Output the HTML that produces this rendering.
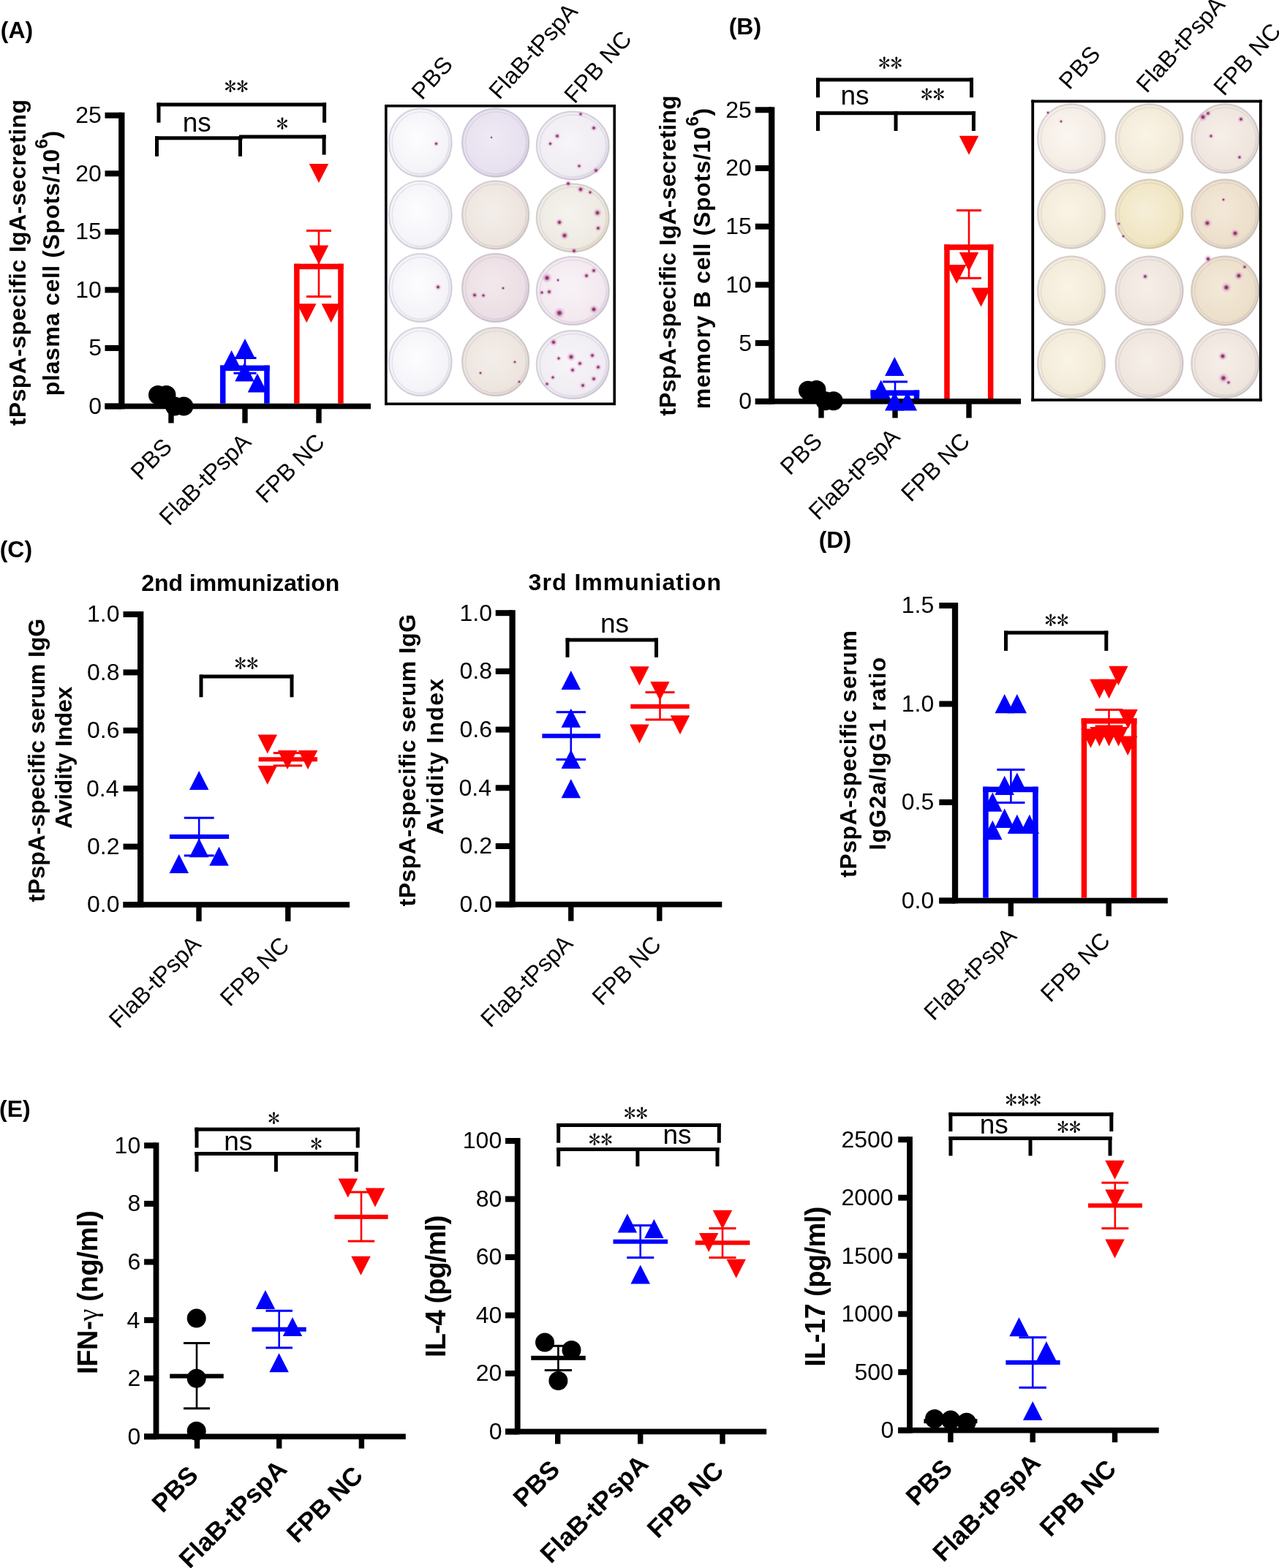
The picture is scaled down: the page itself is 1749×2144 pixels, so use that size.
<!DOCTYPE html>
<html><head><meta charset="utf-8"><title>Figure</title>
<style>html,body{margin:0;padding:0;background:#fff;overflow:hidden;}svg{display:block;}</style></head>
<body><svg width="1749" height="2144" viewBox="0 0 1749 2144">
<rect width="1749" height="2144" fill="#fff"/>
<defs>
<radialGradient id="gA1" cx="0.45" cy="0.45" r="0.6"><stop offset="0" stop-color="#fdfdfe"/><stop offset="0.8" stop-color="#f4f3f8"/><stop offset="1" stop-color="#e4e2ea"/></radialGradient>
<radialGradient id="gA2" cx="0.45" cy="0.45" r="0.6"><stop offset="0" stop-color="#efeaf4"/><stop offset="0.8" stop-color="#e7e0ef"/><stop offset="1" stop-color="#d6cce2"/></radialGradient>
<radialGradient id="gA3" cx="0.45" cy="0.45" r="0.6"><stop offset="0" stop-color="#f3eeea"/><stop offset="0.8" stop-color="#ebe2dd"/><stop offset="1" stop-color="#ddd2cf"/></radialGradient>
<radialGradient id="gA4" cx="0.45" cy="0.45" r="0.6"><stop offset="0" stop-color="#f7f5f8"/><stop offset="0.8" stop-color="#f0ecf3"/><stop offset="1" stop-color="#dcd4e2"/></radialGradient>
<radialGradient id="gA5" cx="0.45" cy="0.45" r="0.6"><stop offset="0" stop-color="#f3eeea"/><stop offset="0.8" stop-color="#ede4de"/><stop offset="1" stop-color="#dfd3cb"/></radialGradient>
<radialGradient id="gA6" cx="0.45" cy="0.45" r="0.6"><stop offset="0" stop-color="#f3e9ec"/><stop offset="0.8" stop-color="#ebdee4"/><stop offset="1" stop-color="#d8c9d7"/></radialGradient>
<radialGradient id="gA7" cx="0.45" cy="0.45" r="0.6"><stop offset="0" stop-color="#f8f2f5"/><stop offset="0.8" stop-color="#f2e9ef"/><stop offset="1" stop-color="#e0d2de"/></radialGradient>
<radialGradient id="gA8" cx="0.45" cy="0.45" r="0.6"><stop offset="0" stop-color="#f5f3ef"/><stop offset="0.8" stop-color="#eeeae2"/><stop offset="1" stop-color="#e2dab8"/></radialGradient>
<radialGradient id="gB1" cx="0.45" cy="0.45" r="0.6"><stop offset="0" stop-color="#fbf7f0"/><stop offset="0.8" stop-color="#f3ece5"/><stop offset="1" stop-color="#e2d8d3"/></radialGradient>
<radialGradient id="gB2" cx="0.45" cy="0.45" r="0.6"><stop offset="0" stop-color="#faf4e6"/><stop offset="0.8" stop-color="#f2ead8"/><stop offset="1" stop-color="#e2d8c4"/></radialGradient>
<radialGradient id="gB3" cx="0.45" cy="0.45" r="0.6"><stop offset="0" stop-color="#f6efd8"/><stop offset="0.8" stop-color="#f0e5c2"/><stop offset="1" stop-color="#e8d890"/></radialGradient>
<radialGradient id="gB4" cx="0.45" cy="0.45" r="0.6"><stop offset="0" stop-color="#f3e9d9"/><stop offset="0.8" stop-color="#ecdfca"/><stop offset="1" stop-color="#ddd0bd"/></radialGradient>
<radialGradient id="gB5" cx="0.45" cy="0.45" r="0.6"><stop offset="0" stop-color="#f6efe8"/><stop offset="0.8" stop-color="#eee5dd"/><stop offset="1" stop-color="#ded3cd"/></radialGradient>
<radialGradient id="spot"><stop offset="0" stop-color="#6a2a55"/><stop offset="0.25" stop-color="#86366c" stop-opacity="0.9"/><stop offset="0.5" stop-color="#c868a8" stop-opacity="0.4"/><stop offset="1" stop-color="#f0b0d8" stop-opacity="0"/></radialGradient>
<filter id="soft" x="-5%" y="-5%" width="110%" height="110%"><feGaussianBlur stdDeviation="0.6"/></filter>
</defs>
<rect x="162.15" y="153.75" width="8.30" height="405.55" fill="#000000"/>
<rect x="143.50" y="551.50" width="22.80" height="8.00" fill="#000000"/>
<rect x="143.50" y="471.95" width="22.80" height="8.00" fill="#000000"/>
<rect x="143.50" y="392.40" width="22.80" height="8.00" fill="#000000"/>
<rect x="143.50" y="312.85" width="22.80" height="8.00" fill="#000000"/>
<rect x="143.50" y="233.30" width="22.80" height="8.00" fill="#000000"/>
<rect x="143.50" y="153.75" width="22.80" height="8.00" fill="#000000"/>
<rect x="143.50" y="551.70" width="363.50" height="7.60" fill="#000000"/>
<rect x="230.30" y="555.50" width="7.40" height="23.00" fill="#000000"/>
<rect x="331.30" y="555.50" width="7.40" height="23.00" fill="#000000"/>
<rect x="432.30" y="555.50" width="7.40" height="23.00" fill="#000000"/>
<rect x="301.00" y="499.60" width="7.50" height="52.10" fill="#0000ff"/>
<rect x="361.20" y="499.60" width="7.50" height="52.10" fill="#0000ff"/>
<rect x="301.00" y="499.60" width="67.70" height="7.50" fill="#0000ff"/>
<rect x="402.10" y="360.70" width="7.50" height="191.00" fill="#ff0000"/>
<rect x="462.20" y="360.70" width="7.50" height="191.00" fill="#ff0000"/>
<rect x="402.10" y="360.70" width="67.60" height="7.50" fill="#ff0000"/>
<rect x="333.70" y="489.50" width="2.60" height="20.80" fill="#0000ff"/>
<rect x="319.50" y="488.00" width="31.00" height="3.00" fill="#0000ff"/>
<rect x="319.50" y="508.80" width="31.00" height="3.00" fill="#0000ff"/>
<rect x="434.70" y="315.40" width="2.60" height="90.10" fill="#ff0000"/>
<rect x="419.00" y="313.90" width="34.00" height="3.00" fill="#ff0000"/>
<rect x="419.00" y="404.00" width="34.00" height="3.00" fill="#ff0000"/>
<circle cx="216.00" cy="540.00" r="13" fill="#000000"/>
<circle cx="227.50" cy="540.00" r="13" fill="#000000"/>
<circle cx="239.00" cy="555.60" r="13" fill="#000000"/>
<circle cx="251.40" cy="555.60" r="13" fill="#000000"/>
<polygon points="316.60,478.90 303.35,504.90 329.85,504.90" fill="#0000ff"/>
<polygon points="335.00,463.00 321.75,489.00 348.25,489.00" fill="#0000ff"/>
<polygon points="334.50,495.50 321.25,521.50 347.75,521.50" fill="#0000ff"/>
<polygon points="352.00,510.50 338.75,536.50 365.25,536.50" fill="#0000ff"/>
<polygon points="422.75,224.00 449.25,224.00 436.00,250.00" fill="#ff0000"/>
<polygon points="422.75,335.50 449.25,335.50 436.00,361.50" fill="#ff0000"/>
<polygon points="406.05,415.20 432.55,415.20 419.30,441.20" fill="#ff0000"/>
<polygon points="439.55,415.20 466.05,415.20 452.80,441.20" fill="#ff0000"/>
<rect x="214.50" y="140.50" width="231.60" height="5.00" fill="#000000"/>
<rect x="214.50" y="140.50" width="5.00" height="27.20" fill="#000000"/>
<rect x="441.10" y="140.50" width="5.00" height="27.20" fill="#000000"/>
<rect x="212.00" y="186.30" width="119.50" height="5.00" fill="#000000"/>
<rect x="212.00" y="186.30" width="5.00" height="27.50" fill="#000000"/>
<rect x="326.00" y="186.30" width="5.00" height="27.50" fill="#000000"/>
<rect x="327.00" y="184.50" width="118.60" height="5.00" fill="#000000"/>
<rect x="440.60" y="184.50" width="5.00" height="27.10" fill="#000000"/>
<rect x="1051.05" y="146.30" width="8.30" height="406.30" fill="#000000"/>
<rect x="1032.80" y="544.80" width="22.40" height="8.00" fill="#000000"/>
<rect x="1032.80" y="465.10" width="22.40" height="8.00" fill="#000000"/>
<rect x="1032.80" y="385.40" width="22.40" height="8.00" fill="#000000"/>
<rect x="1032.80" y="305.70" width="22.40" height="8.00" fill="#000000"/>
<rect x="1032.80" y="226.00" width="22.40" height="8.00" fill="#000000"/>
<rect x="1032.80" y="146.30" width="22.40" height="8.00" fill="#000000"/>
<rect x="1032.80" y="545.00" width="363.20" height="7.60" fill="#000000"/>
<rect x="1119.30" y="548.80" width="7.40" height="22.70" fill="#000000"/>
<rect x="1220.30" y="548.80" width="7.40" height="22.70" fill="#000000"/>
<rect x="1321.30" y="548.80" width="7.40" height="22.70" fill="#000000"/>
<rect x="1190.50" y="533.50" width="7.50" height="11.50" fill="#0000ff"/>
<rect x="1249.70" y="533.50" width="7.50" height="11.50" fill="#0000ff"/>
<rect x="1190.50" y="533.50" width="66.70" height="7.50" fill="#0000ff"/>
<rect x="1291.20" y="334.30" width="7.50" height="210.70" fill="#ff0000"/>
<rect x="1350.90" y="334.30" width="7.50" height="210.70" fill="#ff0000"/>
<rect x="1291.20" y="334.30" width="67.20" height="7.50" fill="#ff0000"/>
<rect x="1222.70" y="522.00" width="2.60" height="17.00" fill="#0000ff"/>
<rect x="1207.00" y="520.50" width="34.00" height="3.00" fill="#0000ff"/>
<rect x="1207.00" y="537.50" width="34.00" height="3.00" fill="#0000ff"/>
<rect x="1323.70" y="287.70" width="2.60" height="92.60" fill="#ff0000"/>
<rect x="1308.00" y="286.20" width="34.00" height="3.00" fill="#ff0000"/>
<rect x="1308.00" y="378.80" width="34.00" height="3.00" fill="#ff0000"/>
<circle cx="1105.00" cy="533.80" r="13" fill="#000000"/>
<circle cx="1116.50" cy="533.00" r="13" fill="#000000"/>
<circle cx="1128.50" cy="548.30" r="13" fill="#000000"/>
<circle cx="1139.80" cy="548.30" r="13" fill="#000000"/>
<polygon points="1223.30,488.00 1210.05,514.00 1236.55,514.00" fill="#0000ff"/>
<polygon points="1204.70,519.50 1191.45,545.50 1217.95,545.50" fill="#0000ff"/>
<polygon points="1223.30,535.50 1210.05,561.50 1236.55,561.50" fill="#0000ff"/>
<polygon points="1240.80,535.50 1227.55,561.50 1254.05,561.50" fill="#0000ff"/>
<polygon points="1311.75,185.70 1338.25,185.70 1325.00,211.70" fill="#ff0000"/>
<polygon points="1311.75,345.00 1338.25,345.00 1325.00,371.00" fill="#ff0000"/>
<polygon points="1294.95,362.00 1321.45,362.00 1308.20,388.00" fill="#ff0000"/>
<polygon points="1328.25,393.40 1354.75,393.40 1341.50,419.40" fill="#ff0000"/>
<rect x="1116.00" y="106.50" width="215.00" height="5.00" fill="#000000"/>
<rect x="1116.00" y="106.50" width="5.00" height="26.80" fill="#000000"/>
<rect x="1326.00" y="106.50" width="5.00" height="26.80" fill="#000000"/>
<rect x="1116.00" y="152.20" width="218.00" height="5.00" fill="#000000"/>
<rect x="1116.00" y="152.20" width="5.00" height="26.80" fill="#000000"/>
<rect x="1222.50" y="152.20" width="5.00" height="26.80" fill="#000000"/>
<rect x="1328.90" y="152.20" width="5.00" height="26.80" fill="#000000"/>
<rect x="188.05" y="836.00" width="8.30" height="404.80" fill="#000000"/>
<rect x="168.50" y="1233.00" width="23.70" height="8.00" fill="#000000"/>
<rect x="168.50" y="1153.60" width="23.70" height="8.00" fill="#000000"/>
<rect x="168.50" y="1074.20" width="23.70" height="8.00" fill="#000000"/>
<rect x="168.50" y="994.80" width="23.70" height="8.00" fill="#000000"/>
<rect x="168.50" y="915.40" width="23.70" height="8.00" fill="#000000"/>
<rect x="168.50" y="836.00" width="23.70" height="8.00" fill="#000000"/>
<rect x="168.50" y="1233.20" width="309.60" height="7.60" fill="#000000"/>
<rect x="268.30" y="1237.00" width="7.40" height="22.70" fill="#000000"/>
<rect x="390.10" y="1237.00" width="7.40" height="22.70" fill="#000000"/>
<rect x="231.90" y="1141.00" width="81.20" height="6.00" fill="#0000ff"/>
<rect x="270.90" y="1118.30" width="2.60" height="51.60" fill="#0000ff"/>
<rect x="251.75" y="1116.80" width="40.90" height="3.00" fill="#0000ff"/>
<rect x="251.75" y="1168.40" width="40.90" height="3.00" fill="#0000ff"/>
<rect x="353.75" y="1035.30" width="80.30" height="6.00" fill="#ff0000"/>
<rect x="392.20" y="1029.60" width="2.60" height="17.30" fill="#ff0000"/>
<rect x="373.75" y="1028.10" width="39.50" height="3.00" fill="#ff0000"/>
<rect x="373.75" y="1045.40" width="39.50" height="3.00" fill="#ff0000"/>
<polygon points="272.20,1054.10 258.95,1080.10 285.45,1080.10" fill="#0000ff"/>
<polygon points="272.20,1146.30 258.95,1172.30 285.45,1172.30" fill="#0000ff"/>
<polygon points="244.80,1167.90 231.55,1193.90 258.05,1193.90" fill="#0000ff"/>
<polygon points="299.50,1157.80 286.25,1183.80 312.75,1183.80" fill="#0000ff"/>
<polygon points="352.55,1004.60 379.05,1004.60 365.80,1030.60" fill="#ff0000"/>
<polygon points="379.85,1025.90 406.35,1025.90 393.10,1051.90" fill="#ff0000"/>
<polygon points="407.85,1025.90 434.35,1025.90 421.10,1051.90" fill="#ff0000"/>
<polygon points="352.55,1046.90 379.05,1046.90 365.80,1072.90" fill="#ff0000"/>
<rect x="273.00" y="922.50" width="128.20" height="5.00" fill="#000000"/>
<rect x="272.50" y="922.50" width="5.00" height="30.80" fill="#000000"/>
<rect x="396.50" y="922.50" width="5.00" height="30.80" fill="#000000"/>
<rect x="696.45" y="834.20" width="8.30" height="406.30" fill="#000000"/>
<rect x="677.70" y="1232.70" width="22.90" height="8.00" fill="#000000"/>
<rect x="677.70" y="1153.00" width="22.90" height="8.00" fill="#000000"/>
<rect x="677.70" y="1073.30" width="22.90" height="8.00" fill="#000000"/>
<rect x="677.70" y="993.60" width="22.90" height="8.00" fill="#000000"/>
<rect x="677.70" y="913.90" width="22.90" height="8.00" fill="#000000"/>
<rect x="677.70" y="834.20" width="22.90" height="8.00" fill="#000000"/>
<rect x="677.70" y="1232.90" width="309.60" height="7.60" fill="#000000"/>
<rect x="777.10" y="1236.70" width="7.40" height="22.70" fill="#000000"/>
<rect x="898.10" y="1236.70" width="7.40" height="22.70" fill="#000000"/>
<rect x="741.35" y="1003.30" width="79.70" height="6.00" fill="#0000ff"/>
<rect x="779.50" y="973.70" width="2.60" height="64.80" fill="#0000ff"/>
<rect x="760.65" y="972.20" width="40.30" height="3.00" fill="#0000ff"/>
<rect x="760.65" y="1037.00" width="40.30" height="3.00" fill="#0000ff"/>
<rect x="862.30" y="963.00" width="80.40" height="6.00" fill="#ff0000"/>
<rect x="901.20" y="946.60" width="2.60" height="37.40" fill="#ff0000"/>
<rect x="882.50" y="945.10" width="40.00" height="3.00" fill="#ff0000"/>
<rect x="882.50" y="982.50" width="40.00" height="3.00" fill="#ff0000"/>
<polygon points="780.80,917.00 767.55,943.00 794.05,943.00" fill="#0000ff"/>
<polygon points="780.80,968.80 767.55,994.80 794.05,994.80" fill="#0000ff"/>
<polygon points="780.80,1025.00 767.55,1051.00 794.05,1051.00" fill="#0000ff"/>
<polygon points="780.80,1065.30 767.55,1091.30 794.05,1091.30" fill="#0000ff"/>
<polygon points="861.15,911.20 887.65,911.20 874.40,937.20" fill="#ff0000"/>
<polygon points="889.15,932.00 915.65,932.00 902.40,958.00" fill="#ff0000"/>
<polygon points="916.75,978.30 943.25,978.30 930.00,1004.30" fill="#ff0000"/>
<polygon points="861.15,990.40 887.65,990.40 874.40,1016.40" fill="#ff0000"/>
<rect x="773.60" y="872.50" width="126.20" height="5.00" fill="#000000"/>
<rect x="773.50" y="872.50" width="5.00" height="26.30" fill="#000000"/>
<rect x="895.00" y="872.50" width="5.00" height="26.30" fill="#000000"/>
<rect x="1301.85" y="824.00" width="8.30" height="411.30" fill="#000000"/>
<rect x="1284.30" y="1227.50" width="21.70" height="8.00" fill="#000000"/>
<rect x="1284.30" y="1093.00" width="21.70" height="8.00" fill="#000000"/>
<rect x="1284.30" y="958.50" width="21.70" height="8.00" fill="#000000"/>
<rect x="1284.30" y="824.00" width="21.70" height="8.00" fill="#000000"/>
<rect x="1284.30" y="1227.70" width="312.50" height="7.60" fill="#000000"/>
<rect x="1378.60" y="1231.50" width="7.40" height="21.30" fill="#000000"/>
<rect x="1512.50" y="1231.50" width="7.40" height="21.30" fill="#000000"/>
<rect x="1344.20" y="1075.70" width="7.50" height="152.00" fill="#0000ff"/>
<rect x="1412.20" y="1075.70" width="7.50" height="152.00" fill="#0000ff"/>
<rect x="1344.20" y="1075.70" width="75.50" height="7.50" fill="#0000ff"/>
<rect x="1478.70" y="982.10" width="7.50" height="245.60" fill="#ff0000"/>
<rect x="1547.00" y="982.10" width="7.50" height="245.60" fill="#ff0000"/>
<rect x="1478.70" y="982.10" width="75.80" height="7.50" fill="#ff0000"/>
<rect x="1381.10" y="1052.40" width="2.60" height="45.10" fill="#0000ff"/>
<rect x="1363.40" y="1050.90" width="38.00" height="3.00" fill="#0000ff"/>
<rect x="1363.40" y="1096.00" width="38.00" height="3.00" fill="#0000ff"/>
<rect x="1515.20" y="970.50" width="2.60" height="22.50" fill="#ff0000"/>
<rect x="1497.65" y="969.00" width="37.70" height="3.00" fill="#ff0000"/>
<rect x="1497.65" y="991.50" width="37.70" height="3.00" fill="#ff0000"/>
<polygon points="1373.70,948.90 1360.50,975.30 1386.90,975.30" fill="#0000ff"/>
<polygon points="1390.80,948.90 1377.60,975.30 1404.00,975.30" fill="#0000ff"/>
<polygon points="1373.70,1060.70 1360.50,1087.10 1386.90,1087.10" fill="#0000ff"/>
<polygon points="1390.80,1056.40 1377.60,1082.80 1404.00,1082.80" fill="#0000ff"/>
<polygon points="1357.30,1083.40 1344.10,1109.80 1370.50,1109.80" fill="#0000ff"/>
<polygon points="1373.70,1105.60 1360.50,1132.00 1386.90,1132.00" fill="#0000ff"/>
<polygon points="1390.80,1113.70 1377.60,1140.10 1404.00,1140.10" fill="#0000ff"/>
<polygon points="1407.80,1113.70 1394.60,1140.10 1421.00,1140.10" fill="#0000ff"/>
<polygon points="1357.30,1121.80 1344.10,1148.20 1370.50,1148.20" fill="#0000ff"/>
<polygon points="1516.20,910.80 1542.60,910.80 1529.40,937.20" fill="#ff0000"/>
<polygon points="1490.30,928.80 1516.70,928.80 1503.50,955.20" fill="#ff0000"/>
<polygon points="1503.30,928.80 1529.70,928.80 1516.50,955.20" fill="#ff0000"/>
<polygon points="1529.40,970.00 1555.80,970.00 1542.60,996.40" fill="#ff0000"/>
<polygon points="1478.30,996.40 1504.70,996.40 1491.50,1022.80" fill="#ff0000"/>
<polygon points="1490.30,994.00 1516.70,994.00 1503.50,1020.40" fill="#ff0000"/>
<polygon points="1503.30,994.00 1529.70,994.00 1516.50,1020.40" fill="#ff0000"/>
<polygon points="1516.30,994.00 1542.70,994.00 1529.50,1020.40" fill="#ff0000"/>
<polygon points="1529.00,1006.60 1555.40,1006.60 1542.20,1033.00" fill="#ff0000"/>
<rect x="1373.00" y="862.60" width="142.30" height="5.00" fill="#000000"/>
<rect x="1373.00" y="862.60" width="5.00" height="27.30" fill="#000000"/>
<rect x="1510.30" y="862.60" width="5.00" height="27.30" fill="#000000"/>
<rect x="209.60" y="1562.30" width="7.80" height="405.80" fill="#000000"/>
<rect x="197.10" y="1960.30" width="16.40" height="8.00" fill="#000000"/>
<rect x="197.10" y="1880.70" width="16.40" height="8.00" fill="#000000"/>
<rect x="197.10" y="1801.10" width="16.40" height="8.00" fill="#000000"/>
<rect x="197.10" y="1721.50" width="16.40" height="8.00" fill="#000000"/>
<rect x="197.10" y="1641.90" width="16.40" height="8.00" fill="#000000"/>
<rect x="197.10" y="1562.30" width="16.40" height="8.00" fill="#000000"/>
<rect x="197.10" y="1960.50" width="357.70" height="7.60" fill="#000000"/>
<rect x="265.80" y="1964.30" width="7.40" height="16.30" fill="#000000"/>
<rect x="378.00" y="1964.30" width="7.40" height="16.30" fill="#000000"/>
<rect x="490.70" y="1964.30" width="7.40" height="16.30" fill="#000000"/>
<rect x="232.25" y="1878.60" width="73.50" height="6.00" fill="#000000"/>
<rect x="267.70" y="1836.50" width="2.60" height="89.30" fill="#000000"/>
<rect x="251.00" y="1835.00" width="36.00" height="3.00" fill="#000000"/>
<rect x="251.00" y="1924.30" width="36.00" height="3.00" fill="#000000"/>
<circle cx="268.70" cy="1802.60" r="13" fill="#000000"/>
<circle cx="268.70" cy="1884.80" r="13" fill="#000000"/>
<circle cx="268.70" cy="1956.80" r="13" fill="#000000"/>
<rect x="344.50" y="1814.70" width="74.20" height="6.00" fill="#0000ff"/>
<rect x="380.40" y="1792.30" width="2.60" height="50.60" fill="#0000ff"/>
<rect x="363.45" y="1790.80" width="36.50" height="3.00" fill="#0000ff"/>
<rect x="363.45" y="1841.40" width="36.50" height="3.00" fill="#0000ff"/>
<polygon points="362.90,1763.90 349.65,1789.90 376.15,1789.90" fill="#0000ff"/>
<polygon points="400.00,1801.00 386.75,1827.00 413.25,1827.00" fill="#0000ff"/>
<polygon points="381.60,1850.30 368.35,1876.30 394.85,1876.30" fill="#0000ff"/>
<rect x="457.40" y="1660.90" width="73.20" height="6.00" fill="#ff0000"/>
<rect x="492.70" y="1630.00" width="2.60" height="67.10" fill="#ff0000"/>
<rect x="475.75" y="1628.50" width="36.50" height="3.00" fill="#ff0000"/>
<rect x="475.75" y="1695.60" width="36.50" height="3.00" fill="#ff0000"/>
<polygon points="462.55,1611.60 489.05,1611.60 475.80,1637.60" fill="#ff0000"/>
<polygon points="499.75,1624.50 526.25,1624.50 513.00,1650.50" fill="#ff0000"/>
<polygon points="480.25,1717.70 506.75,1717.70 493.50,1743.70" fill="#ff0000"/>
<rect x="266.20" y="1541.70" width="225.80" height="5.00" fill="#000000"/>
<rect x="266.50" y="1541.70" width="5.00" height="27.70" fill="#000000"/>
<rect x="486.70" y="1541.70" width="5.00" height="27.70" fill="#000000"/>
<rect x="266.20" y="1575.00" width="223.80" height="5.00" fill="#000000"/>
<rect x="266.50" y="1575.00" width="5.00" height="27.20" fill="#000000"/>
<rect x="374.90" y="1575.00" width="5.00" height="27.20" fill="#000000"/>
<rect x="484.80" y="1575.00" width="5.00" height="27.20" fill="#000000"/>
<rect x="703.80" y="1556.00" width="7.80" height="405.30" fill="#000000"/>
<rect x="691.00" y="1953.50" width="16.70" height="8.00" fill="#000000"/>
<rect x="691.00" y="1874.00" width="16.70" height="8.00" fill="#000000"/>
<rect x="691.00" y="1794.50" width="16.70" height="8.00" fill="#000000"/>
<rect x="691.00" y="1715.00" width="16.70" height="8.00" fill="#000000"/>
<rect x="691.00" y="1635.50" width="16.70" height="8.00" fill="#000000"/>
<rect x="691.00" y="1556.00" width="16.70" height="8.00" fill="#000000"/>
<rect x="691.00" y="1953.70" width="357.20" height="7.60" fill="#000000"/>
<rect x="759.00" y="1957.50" width="7.40" height="16.90" fill="#000000"/>
<rect x="872.00" y="1957.50" width="7.40" height="16.90" fill="#000000"/>
<rect x="984.30" y="1957.50" width="7.40" height="16.90" fill="#000000"/>
<rect x="726.25" y="1853.80" width="74.50" height="6.00" fill="#000000"/>
<rect x="762.10" y="1840.30" width="2.60" height="33.30" fill="#000000"/>
<rect x="744.75" y="1838.80" width="37.30" height="3.00" fill="#000000"/>
<rect x="744.75" y="1872.10" width="37.30" height="3.00" fill="#000000"/>
<circle cx="745.00" cy="1835.60" r="13" fill="#000000"/>
<circle cx="781.50" cy="1845.90" r="13" fill="#000000"/>
<circle cx="763.40" cy="1888.00" r="13" fill="#000000"/>
<rect x="838.50" y="1694.70" width="74.60" height="6.00" fill="#0000ff"/>
<rect x="874.40" y="1675.60" width="2.60" height="44.00" fill="#0000ff"/>
<rect x="857.20" y="1674.10" width="37.00" height="3.00" fill="#0000ff"/>
<rect x="857.20" y="1718.10" width="37.00" height="3.00" fill="#0000ff"/>
<polygon points="857.90,1659.40 844.65,1685.40 871.15,1685.40" fill="#0000ff"/>
<polygon points="894.40,1667.10 881.15,1693.10 907.65,1693.10" fill="#0000ff"/>
<polygon points="875.70,1729.50 862.45,1755.50 888.95,1755.50" fill="#0000ff"/>
<rect x="950.80" y="1696.30" width="74.60" height="6.00" fill="#ff0000"/>
<rect x="986.70" y="1679.60" width="2.60" height="40.00" fill="#ff0000"/>
<rect x="969.50" y="1678.10" width="37.00" height="3.00" fill="#ff0000"/>
<rect x="969.50" y="1718.10" width="37.00" height="3.00" fill="#ff0000"/>
<polygon points="974.75,1654.70 1001.25,1654.70 988.00,1680.70" fill="#ff0000"/>
<polygon points="955.95,1685.90 982.45,1685.90 969.20,1711.90" fill="#ff0000"/>
<polygon points="993.45,1721.70 1019.95,1721.70 1006.70,1747.70" fill="#ff0000"/>
<rect x="761.20" y="1536.00" width="224.60" height="5.00" fill="#000000"/>
<rect x="761.20" y="1536.00" width="5.00" height="26.70" fill="#000000"/>
<rect x="980.80" y="1536.00" width="5.00" height="26.70" fill="#000000"/>
<rect x="761.20" y="1569.00" width="222.30" height="5.00" fill="#000000"/>
<rect x="761.20" y="1569.00" width="5.00" height="25.80" fill="#000000"/>
<rect x="869.40" y="1569.00" width="5.00" height="25.80" fill="#000000"/>
<rect x="978.50" y="1569.00" width="5.00" height="25.80" fill="#000000"/>
<rect x="1240.10" y="1554.20" width="7.80" height="405.30" fill="#000000"/>
<rect x="1228.20" y="1951.70" width="15.80" height="8.00" fill="#000000"/>
<rect x="1228.20" y="1872.20" width="15.80" height="8.00" fill="#000000"/>
<rect x="1228.20" y="1792.70" width="15.80" height="8.00" fill="#000000"/>
<rect x="1228.20" y="1713.20" width="15.80" height="8.00" fill="#000000"/>
<rect x="1228.20" y="1633.70" width="15.80" height="8.00" fill="#000000"/>
<rect x="1228.20" y="1554.20" width="15.80" height="8.00" fill="#000000"/>
<rect x="1228.20" y="1951.90" width="356.50" height="7.60" fill="#000000"/>
<rect x="1296.20" y="1955.70" width="7.40" height="16.50" fill="#000000"/>
<rect x="1408.50" y="1955.70" width="7.40" height="16.50" fill="#000000"/>
<rect x="1520.80" y="1955.70" width="7.40" height="16.50" fill="#000000"/>
<rect x="1263.40" y="1940.20" width="73.00" height="6.00" fill="#000000"/>
<circle cx="1278.00" cy="1940.00" r="13" fill="#000000"/>
<circle cx="1300.00" cy="1941.60" r="13" fill="#000000"/>
<circle cx="1321.70" cy="1944.80" r="13" fill="#000000"/>
<rect x="1375.40" y="1860.00" width="74.20" height="6.00" fill="#0000ff"/>
<rect x="1410.90" y="1828.70" width="2.60" height="68.60" fill="#0000ff"/>
<rect x="1393.50" y="1827.20" width="37.40" height="3.00" fill="#0000ff"/>
<rect x="1393.50" y="1895.80" width="37.40" height="3.00" fill="#0000ff"/>
<polygon points="1393.50,1801.30 1380.25,1827.30 1406.75,1827.30" fill="#0000ff"/>
<polygon points="1430.90,1834.00 1417.65,1860.00 1444.15,1860.00" fill="#0000ff"/>
<polygon points="1412.20,1916.00 1398.95,1942.00 1425.45,1942.00" fill="#0000ff"/>
<rect x="1488.05" y="1645.40" width="73.90" height="6.00" fill="#ff0000"/>
<rect x="1523.50" y="1617.20" width="2.60" height="62.40" fill="#ff0000"/>
<rect x="1506.40" y="1615.70" width="36.80" height="3.00" fill="#ff0000"/>
<rect x="1506.40" y="1678.10" width="36.80" height="3.00" fill="#ff0000"/>
<polygon points="1511.25,1586.70 1537.75,1586.70 1524.50,1612.70" fill="#ff0000"/>
<polygon points="1511.25,1626.60 1537.75,1626.60 1524.50,1652.60" fill="#ff0000"/>
<polygon points="1511.25,1694.60 1537.75,1694.60 1524.50,1720.60" fill="#ff0000"/>
<rect x="1297.40" y="1521.20" width="224.90" height="5.00" fill="#000000"/>
<rect x="1297.40" y="1521.20" width="5.00" height="25.90" fill="#000000"/>
<rect x="1517.30" y="1521.20" width="5.00" height="25.90" fill="#000000"/>
<rect x="1297.40" y="1554.00" width="223.10" height="5.00" fill="#000000"/>
<rect x="1297.50" y="1554.00" width="5.00" height="26.40" fill="#000000"/>
<rect x="1406.50" y="1554.00" width="5.00" height="26.40" fill="#000000"/>
<rect x="1515.50" y="1554.00" width="5.00" height="26.40" fill="#000000"/>
<g filter="url(#soft)">
<ellipse cx="574.7" cy="195" rx="44" ry="47.5" fill="url(#gA1)"/>
<ellipse cx="574.7" cy="195" rx="42.8" ry="46.3" fill="none" stroke="#9a96aa" stroke-opacity="0.32" stroke-width="2.2"/>
<ellipse cx="575.2" cy="195.5" rx="39" ry="42.5" fill="none" stroke="#9a96aa" stroke-opacity="0.18" stroke-width="1.5"/>
<circle cx="596.5" cy="196.5" r="4.25" fill="url(#spot)"/>
<ellipse cx="677.6" cy="195" rx="46.6" ry="47.5" fill="url(#gA2)"/>
<ellipse cx="677.6" cy="195" rx="45.4" ry="46.3" fill="none" stroke="#9a96aa" stroke-opacity="0.32" stroke-width="2.2"/>
<ellipse cx="678.1" cy="195.5" rx="41.6" ry="42.5" fill="none" stroke="#9a96aa" stroke-opacity="0.18" stroke-width="1.5"/>
<circle cx="672" cy="188" r="2.55" fill="url(#spot)"/>
<ellipse cx="783.2" cy="199" rx="50.5" ry="47.5" fill="url(#gA4)"/>
<ellipse cx="783.2" cy="199" rx="49.3" ry="46.3" fill="none" stroke="#9a96aa" stroke-opacity="0.32" stroke-width="2.2"/>
<ellipse cx="783.7" cy="199.5" rx="45.5" ry="42.5" fill="none" stroke="#9a96aa" stroke-opacity="0.18" stroke-width="1.5"/>
<circle cx="762" cy="186" r="5.10" fill="url(#spot)"/>
<circle cx="752.5" cy="196.5" r="4.25" fill="url(#spot)"/>
<circle cx="794" cy="156" r="4.25" fill="url(#spot)"/>
<circle cx="812" cy="175" r="5.10" fill="url(#spot)"/>
<circle cx="792" cy="227" r="4.25" fill="url(#spot)"/>
<circle cx="815" cy="233" r="5.10" fill="url(#spot)"/>
<ellipse cx="574.7" cy="293.8" rx="44" ry="47.5" fill="url(#gA1)"/>
<ellipse cx="574.7" cy="293.8" rx="42.8" ry="46.3" fill="none" stroke="#9a96aa" stroke-opacity="0.32" stroke-width="2.2"/>
<ellipse cx="575.2" cy="294.3" rx="39" ry="42.5" fill="none" stroke="#9a96aa" stroke-opacity="0.18" stroke-width="1.5"/>
<ellipse cx="677.6" cy="293.8" rx="46.6" ry="47.5" fill="url(#gA5)"/>
<ellipse cx="677.6" cy="293.8" rx="45.4" ry="46.3" fill="none" stroke="#9a96aa" stroke-opacity="0.32" stroke-width="2.2"/>
<ellipse cx="678.1" cy="294.3" rx="41.6" ry="42.5" fill="none" stroke="#9a96aa" stroke-opacity="0.18" stroke-width="1.5"/>
<ellipse cx="783.2" cy="297.8" rx="50.5" ry="47.5" fill="url(#gA8)"/>
<ellipse cx="783.2" cy="297.8" rx="49.3" ry="46.3" fill="none" stroke="#9a96aa" stroke-opacity="0.32" stroke-width="2.2"/>
<ellipse cx="783.7" cy="298.3" rx="45.5" ry="42.5" fill="none" stroke="#9a96aa" stroke-opacity="0.18" stroke-width="1.5"/>
<circle cx="777" cy="251" r="5.10" fill="url(#spot)"/>
<circle cx="794" cy="259" r="5.95" fill="url(#spot)"/>
<circle cx="807" cy="263" r="4.25" fill="url(#spot)"/>
<circle cx="817" cy="291" r="6.80" fill="url(#spot)"/>
<circle cx="765" cy="304" r="5.95" fill="url(#spot)"/>
<circle cx="818" cy="312" r="5.10" fill="url(#spot)"/>
<circle cx="772" cy="322" r="6.80" fill="url(#spot)"/>
<circle cx="785" cy="343" r="5.10" fill="url(#spot)"/>
<ellipse cx="574.7" cy="393.5" rx="44" ry="47.5" fill="url(#gA1)"/>
<ellipse cx="574.7" cy="393.5" rx="42.8" ry="46.3" fill="none" stroke="#9a96aa" stroke-opacity="0.32" stroke-width="2.2"/>
<ellipse cx="575.2" cy="394.0" rx="39" ry="42.5" fill="none" stroke="#9a96aa" stroke-opacity="0.18" stroke-width="1.5"/>
<circle cx="599" cy="392.5" r="5.10" fill="url(#spot)"/>
<ellipse cx="677.6" cy="393.5" rx="46.6" ry="47.5" fill="url(#gA6)"/>
<ellipse cx="677.6" cy="393.5" rx="45.4" ry="46.3" fill="none" stroke="#9a96aa" stroke-opacity="0.32" stroke-width="2.2"/>
<ellipse cx="678.1" cy="394.0" rx="41.6" ry="42.5" fill="none" stroke="#9a96aa" stroke-opacity="0.18" stroke-width="1.5"/>
<circle cx="649" cy="403.5" r="5.10" fill="url(#spot)"/>
<circle cx="661" cy="404" r="4.25" fill="url(#spot)"/>
<circle cx="688" cy="394" r="3.40" fill="url(#spot)"/>
<ellipse cx="783.2" cy="397.5" rx="50.5" ry="47.5" fill="url(#gA7)"/>
<ellipse cx="783.2" cy="397.5" rx="49.3" ry="46.3" fill="none" stroke="#9a96aa" stroke-opacity="0.32" stroke-width="2.2"/>
<ellipse cx="783.7" cy="398.0" rx="45.5" ry="42.5" fill="none" stroke="#9a96aa" stroke-opacity="0.18" stroke-width="1.5"/>
<circle cx="748" cy="380" r="7.65" fill="url(#spot)"/>
<circle cx="763" cy="383" r="3.40" fill="url(#spot)"/>
<circle cx="802" cy="377" r="5.10" fill="url(#spot)"/>
<circle cx="812" cy="370" r="5.10" fill="url(#spot)"/>
<circle cx="741" cy="400" r="4.25" fill="url(#spot)"/>
<circle cx="751" cy="399" r="5.10" fill="url(#spot)"/>
<circle cx="765" cy="428" r="8.50" fill="url(#spot)"/>
<circle cx="812" cy="423" r="6.80" fill="url(#spot)"/>
<ellipse cx="574.7" cy="494.5" rx="44" ry="47.5" fill="url(#gA1)"/>
<ellipse cx="574.7" cy="494.5" rx="42.8" ry="46.3" fill="none" stroke="#9a96aa" stroke-opacity="0.32" stroke-width="2.2"/>
<ellipse cx="575.2" cy="495.0" rx="39" ry="42.5" fill="none" stroke="#9a96aa" stroke-opacity="0.18" stroke-width="1.5"/>
<ellipse cx="677.6" cy="494.5" rx="46.6" ry="47.5" fill="url(#gA5)"/>
<ellipse cx="677.6" cy="494.5" rx="45.4" ry="46.3" fill="none" stroke="#9a96aa" stroke-opacity="0.32" stroke-width="2.2"/>
<ellipse cx="678.1" cy="495.0" rx="41.6" ry="42.5" fill="none" stroke="#9a96aa" stroke-opacity="0.18" stroke-width="1.5"/>
<circle cx="704" cy="495" r="3.40" fill="url(#spot)"/>
<circle cx="710" cy="522" r="3.40" fill="url(#spot)"/>
<circle cx="657" cy="510" r="3.40" fill="url(#spot)"/>
<ellipse cx="783.2" cy="498.5" rx="50.5" ry="47.5" fill="url(#gA4)"/>
<ellipse cx="783.2" cy="498.5" rx="49.3" ry="46.3" fill="none" stroke="#9a96aa" stroke-opacity="0.32" stroke-width="2.2"/>
<ellipse cx="783.7" cy="499.0" rx="45.5" ry="42.5" fill="none" stroke="#9a96aa" stroke-opacity="0.18" stroke-width="1.5"/>
<circle cx="757" cy="468" r="5.95" fill="url(#spot)"/>
<circle cx="781" cy="488" r="6.80" fill="url(#spot)"/>
<circle cx="764" cy="490" r="4.25" fill="url(#spot)"/>
<circle cx="793" cy="497" r="5.10" fill="url(#spot)"/>
<circle cx="810" cy="486" r="5.10" fill="url(#spot)"/>
<circle cx="818" cy="502" r="5.10" fill="url(#spot)"/>
<circle cx="756" cy="516" r="4.25" fill="url(#spot)"/>
<circle cx="783" cy="506" r="5.10" fill="url(#spot)"/>
<circle cx="812" cy="518" r="5.10" fill="url(#spot)"/>
<circle cx="748" cy="525" r="4.25" fill="url(#spot)"/>
<circle cx="797" cy="527" r="5.10" fill="url(#spot)"/>
<ellipse cx="1465" cy="189.5" rx="47" ry="48" fill="url(#gB1)"/>
<ellipse cx="1465" cy="189.5" rx="45.8" ry="46.8" fill="none" stroke="#9a96aa" stroke-opacity="0.32" stroke-width="2.2"/>
<ellipse cx="1465.5" cy="190.0" rx="42" ry="43" fill="none" stroke="#9a96aa" stroke-opacity="0.18" stroke-width="1.5"/>
<circle cx="1433" cy="154" r="3.40" fill="url(#spot)"/>
<circle cx="1451" cy="166" r="3.40" fill="url(#spot)"/>
<ellipse cx="1571.6" cy="189.5" rx="47" ry="48" fill="url(#gB2)"/>
<ellipse cx="1571.6" cy="189.5" rx="45.8" ry="46.8" fill="none" stroke="#9a96aa" stroke-opacity="0.32" stroke-width="2.2"/>
<ellipse cx="1572.1" cy="190.0" rx="42" ry="43" fill="none" stroke="#9a96aa" stroke-opacity="0.18" stroke-width="1.5"/>
<ellipse cx="1675.3" cy="189.5" rx="47" ry="48" fill="url(#gB5)"/>
<ellipse cx="1675.3" cy="189.5" rx="45.8" ry="46.8" fill="none" stroke="#9a96aa" stroke-opacity="0.32" stroke-width="2.2"/>
<ellipse cx="1675.8" cy="190.0" rx="42" ry="43" fill="none" stroke="#9a96aa" stroke-opacity="0.18" stroke-width="1.5"/>
<circle cx="1645" cy="160" r="6.80" fill="url(#spot)"/>
<circle cx="1652" cy="155" r="5.10" fill="url(#spot)"/>
<circle cx="1697" cy="163" r="5.10" fill="url(#spot)"/>
<circle cx="1656" cy="186" r="4.25" fill="url(#spot)"/>
<circle cx="1695" cy="215" r="4.25" fill="url(#spot)"/>
<ellipse cx="1465" cy="292.5" rx="47" ry="48" fill="url(#gB2)"/>
<ellipse cx="1465" cy="292.5" rx="45.8" ry="46.8" fill="none" stroke="#9a96aa" stroke-opacity="0.32" stroke-width="2.2"/>
<ellipse cx="1465.5" cy="293.0" rx="42" ry="43" fill="none" stroke="#9a96aa" stroke-opacity="0.18" stroke-width="1.5"/>
<ellipse cx="1571.6" cy="292.5" rx="47" ry="48" fill="url(#gB3)"/>
<ellipse cx="1571.6" cy="292.5" rx="45.8" ry="46.8" fill="none" stroke="#9a96aa" stroke-opacity="0.32" stroke-width="2.2"/>
<ellipse cx="1572.1" cy="293.0" rx="42" ry="43" fill="none" stroke="#9a96aa" stroke-opacity="0.18" stroke-width="1.5"/>
<circle cx="1530" cy="306" r="3.40" fill="url(#spot)"/>
<circle cx="1536" cy="323" r="3.40" fill="url(#spot)"/>
<ellipse cx="1675.3" cy="292.5" rx="47" ry="48" fill="url(#gB4)"/>
<ellipse cx="1675.3" cy="292.5" rx="45.8" ry="46.8" fill="none" stroke="#9a96aa" stroke-opacity="0.32" stroke-width="2.2"/>
<ellipse cx="1675.8" cy="293.0" rx="42" ry="43" fill="none" stroke="#9a96aa" stroke-opacity="0.18" stroke-width="1.5"/>
<circle cx="1651" cy="305" r="6.80" fill="url(#spot)"/>
<circle cx="1689" cy="319" r="6.80" fill="url(#spot)"/>
<circle cx="1673" cy="273" r="3.40" fill="url(#spot)"/>
<ellipse cx="1465" cy="397.5" rx="47" ry="48" fill="url(#gB2)"/>
<ellipse cx="1465" cy="397.5" rx="45.8" ry="46.8" fill="none" stroke="#9a96aa" stroke-opacity="0.32" stroke-width="2.2"/>
<ellipse cx="1465.5" cy="398.0" rx="42" ry="43" fill="none" stroke="#9a96aa" stroke-opacity="0.18" stroke-width="1.5"/>
<ellipse cx="1571.6" cy="397.5" rx="47" ry="48" fill="url(#gB5)"/>
<ellipse cx="1571.6" cy="397.5" rx="45.8" ry="46.8" fill="none" stroke="#9a96aa" stroke-opacity="0.32" stroke-width="2.2"/>
<ellipse cx="1572.1" cy="398.0" rx="42" ry="43" fill="none" stroke="#9a96aa" stroke-opacity="0.18" stroke-width="1.5"/>
<circle cx="1566" cy="378" r="5.10" fill="url(#spot)"/>
<ellipse cx="1675.3" cy="397.5" rx="47" ry="48" fill="url(#gB4)"/>
<ellipse cx="1675.3" cy="397.5" rx="45.8" ry="46.8" fill="none" stroke="#9a96aa" stroke-opacity="0.32" stroke-width="2.2"/>
<ellipse cx="1675.8" cy="398.0" rx="42" ry="43" fill="none" stroke="#9a96aa" stroke-opacity="0.18" stroke-width="1.5"/>
<circle cx="1652" cy="354" r="5.95" fill="url(#spot)"/>
<circle cx="1694" cy="377" r="6.80" fill="url(#spot)"/>
<circle cx="1677" cy="393" r="7.65" fill="url(#spot)"/>
<circle cx="1702" cy="365" r="4.25" fill="url(#spot)"/>
<ellipse cx="1465" cy="497" rx="47" ry="48" fill="url(#gB2)"/>
<ellipse cx="1465" cy="497" rx="45.8" ry="46.8" fill="none" stroke="#9a96aa" stroke-opacity="0.32" stroke-width="2.2"/>
<ellipse cx="1465.5" cy="497.5" rx="42" ry="43" fill="none" stroke="#9a96aa" stroke-opacity="0.18" stroke-width="1.5"/>
<ellipse cx="1571.6" cy="497" rx="47" ry="48" fill="url(#gB5)"/>
<ellipse cx="1571.6" cy="497" rx="45.8" ry="46.8" fill="none" stroke="#9a96aa" stroke-opacity="0.32" stroke-width="2.2"/>
<ellipse cx="1572.1" cy="497.5" rx="42" ry="43" fill="none" stroke="#9a96aa" stroke-opacity="0.18" stroke-width="1.5"/>
<ellipse cx="1675.3" cy="497" rx="47" ry="48" fill="url(#gB5)"/>
<ellipse cx="1675.3" cy="497" rx="45.8" ry="46.8" fill="none" stroke="#9a96aa" stroke-opacity="0.32" stroke-width="2.2"/>
<ellipse cx="1675.8" cy="497.5" rx="42" ry="43" fill="none" stroke="#9a96aa" stroke-opacity="0.18" stroke-width="1.5"/>
<circle cx="1672" cy="487" r="6.80" fill="url(#spot)"/>
<circle cx="1673" cy="517" r="7.65" fill="url(#spot)"/>
<circle cx="1680" cy="523" r="4.25" fill="url(#spot)"/>
</g>
<rect x="526.00" y="143.00" width="316.00" height="3.60" fill="#000000"/>
<rect x="526.00" y="550.50" width="316.00" height="3.60" fill="#000000"/>
<rect x="526.00" y="143.00" width="3.60" height="411.10" fill="#000000"/>
<rect x="838.40" y="143.00" width="3.60" height="411.10" fill="#000000"/>
<rect x="1410.30" y="136.60" width="315.40" height="3.80" fill="#000000"/>
<rect x="1410.30" y="545.00" width="315.40" height="3.80" fill="#000000"/>
<rect x="1410.30" y="136.60" width="3.80" height="412.20" fill="#000000"/>
<rect x="1721.90" y="136.60" width="3.80" height="412.20" fill="#000000"/>
<text transform="translate(121.20,565.90)" font-family="'Liberation Sans', Arial, sans-serif" font-weight="400" font-size="32" xml:space="preserve">0</text>
<text transform="translate(121.20,486.35)" font-family="'Liberation Sans', Arial, sans-serif" font-weight="400" font-size="32" xml:space="preserve">5</text>
<text transform="translate(103.20,406.80)" font-family="'Liberation Sans', Arial, sans-serif" font-weight="400" font-size="32" xml:space="preserve">10</text>
<text transform="translate(103.20,327.25)" font-family="'Liberation Sans', Arial, sans-serif" font-weight="400" font-size="32" xml:space="preserve">15</text>
<text transform="translate(103.20,247.70)" font-family="'Liberation Sans', Arial, sans-serif" font-weight="400" font-size="32" xml:space="preserve">20</text>
<text transform="translate(103.20,168.15)" font-family="'Liberation Sans', Arial, sans-serif" font-weight="400" font-size="32" xml:space="preserve">25</text>
<text transform="translate(306.75,130.00)" font-family="IPAGothic, 'Liberation Serif', serif" font-weight="400" font-size="33" xml:space="preserve">**</text>
<text transform="translate(249.65,180.00)" font-family="'Liberation Sans', Arial, sans-serif" font-weight="400" font-size="37" xml:space="preserve">ns</text>
<text transform="translate(377.70,181.25)" font-family="IPAGothic, 'Liberation Serif', serif" font-weight="400" font-size="33" xml:space="preserve">*</text>
<text transform="translate(0.75,51.85)" font-family="'Liberation Sans', Arial, sans-serif" font-weight="700" font-size="32" xml:space="preserve">(A)</text>
<text transform="translate(35.05,582.20) rotate(-90)" font-family="'Liberation Sans', Arial, sans-serif" font-weight="700" font-size="32" letter-spacing="0.39" xml:space="preserve">tPspA-specific IgA-secreting</text>
<text transform="translate(80.95,541.20) rotate(-90)" font-family="'Liberation Sans', Arial, sans-serif" font-weight="700" font-size="32" letter-spacing="0.59" xml:space="preserve">plasma cell (Spots/10<tspan font-size="24" dy="-15.6">6</tspan><tspan dy="15.6">)</tspan></text>
<text transform="translate(191.90,658.10) rotate(-45)" font-family="'Liberation Sans', Arial, sans-serif" font-weight="400" font-size="32" xml:space="preserve">PBS</text>
<text transform="translate(231.00,720.05) rotate(-45)" font-family="'Liberation Sans', Arial, sans-serif" font-weight="400" font-size="32" letter-spacing="-0.07" xml:space="preserve">FlaB-tPspA</text>
<text transform="translate(362.90,689.45) rotate(-45)" font-family="'Liberation Sans', Arial, sans-serif" font-weight="400" font-size="32" xml:space="preserve">FPB NC</text>
<text transform="translate(577.10,137.90) rotate(-48)" font-family="'Liberation Sans', Arial, sans-serif" font-weight="400" font-size="32" letter-spacing="0.57" xml:space="preserve">PBS</text>
<text transform="translate(682.75,137.40) rotate(-48)" font-family="'Liberation Sans', Arial, sans-serif" font-weight="400" font-size="32" letter-spacing="0.07" xml:space="preserve">FlaB-tPspA</text>
<text transform="translate(785.65,143.10) rotate(-48)" font-family="'Liberation Sans', Arial, sans-serif" font-weight="400" font-size="32" letter-spacing="0.38" xml:space="preserve">FPB NC</text>
<text transform="translate(1010.30,559.20)" font-family="'Liberation Sans', Arial, sans-serif" font-weight="400" font-size="32" xml:space="preserve">0</text>
<text transform="translate(1010.30,479.50)" font-family="'Liberation Sans', Arial, sans-serif" font-weight="400" font-size="32" xml:space="preserve">5</text>
<text transform="translate(992.30,399.80)" font-family="'Liberation Sans', Arial, sans-serif" font-weight="400" font-size="32" xml:space="preserve">10</text>
<text transform="translate(992.30,320.10)" font-family="'Liberation Sans', Arial, sans-serif" font-weight="400" font-size="32" xml:space="preserve">15</text>
<text transform="translate(992.30,240.40)" font-family="'Liberation Sans', Arial, sans-serif" font-weight="400" font-size="32" xml:space="preserve">20</text>
<text transform="translate(992.30,160.70)" font-family="'Liberation Sans', Arial, sans-serif" font-weight="400" font-size="32" xml:space="preserve">25</text>
<text transform="translate(1201.00,97.70)" font-family="IPAGothic, 'Liberation Serif', serif" font-weight="400" font-size="33" xml:space="preserve">**</text>
<text transform="translate(1149.40,143.00)" font-family="'Liberation Sans', Arial, sans-serif" font-weight="400" font-size="37" xml:space="preserve">ns</text>
<text transform="translate(1258.95,141.25)" font-family="IPAGothic, 'Liberation Serif', serif" font-weight="400" font-size="33" xml:space="preserve">**</text>
<text transform="translate(996.65,46.90)" font-family="'Liberation Sans', Arial, sans-serif" font-weight="700" font-size="32" xml:space="preserve">(B)</text>
<text transform="translate(924.40,568.75) rotate(-90)" font-family="'Liberation Sans', Arial, sans-serif" font-weight="700" font-size="32" letter-spacing="0.1" xml:space="preserve">tPspA-specific IgA-secreting</text>
<text transform="translate(970.80,559.15) rotate(-90)" font-family="'Liberation Sans', Arial, sans-serif" font-weight="700" font-size="32" letter-spacing="0.65" xml:space="preserve">memory B cell (Spots/10<tspan font-size="24" dy="-15.6">6</tspan><tspan dy="15.6">)</tspan></text>
<text transform="translate(1080.30,651.10) rotate(-45)" font-family="'Liberation Sans', Arial, sans-serif" font-weight="400" font-size="32" letter-spacing="0.28" xml:space="preserve">PBS</text>
<text transform="translate(1118.95,712.55) rotate(-45)" font-family="'Liberation Sans', Arial, sans-serif" font-weight="400" font-size="32" letter-spacing="-0.16" xml:space="preserve">FlaB-tPspA</text>
<text transform="translate(1245.60,687.55) rotate(-45)" font-family="'Liberation Sans', Arial, sans-serif" font-weight="400" font-size="32" letter-spacing="-0.16" xml:space="preserve">FPB NC</text>
<text transform="translate(1462.30,124.00) rotate(-48)" font-family="'Liberation Sans', Arial, sans-serif" font-weight="400" font-size="32" letter-spacing="0.78" xml:space="preserve">PBS</text>
<text transform="translate(1568.00,128.40) rotate(-48)" font-family="'Liberation Sans', Arial, sans-serif" font-weight="400" font-size="32" letter-spacing="0.1" xml:space="preserve">FlaB-tPspA</text>
<text transform="translate(1673.70,132.50) rotate(-48)" font-family="'Liberation Sans', Arial, sans-serif" font-weight="400" font-size="32" letter-spacing="0.3" xml:space="preserve">FPB NC</text>
<text transform="translate(119.00,1247.40)" font-family="'Liberation Sans', Arial, sans-serif" font-weight="400" font-size="32" xml:space="preserve">0.0</text>
<text transform="translate(119.00,1168.00)" font-family="'Liberation Sans', Arial, sans-serif" font-weight="400" font-size="32" xml:space="preserve">0.2</text>
<text transform="translate(118.00,1088.60)" font-family="'Liberation Sans', Arial, sans-serif" font-weight="400" font-size="32" xml:space="preserve">0.4</text>
<text transform="translate(119.00,1009.20)" font-family="'Liberation Sans', Arial, sans-serif" font-weight="400" font-size="32" xml:space="preserve">0.6</text>
<text transform="translate(119.00,929.80)" font-family="'Liberation Sans', Arial, sans-serif" font-weight="400" font-size="32" xml:space="preserve">0.8</text>
<text transform="translate(119.00,850.40)" font-family="'Liberation Sans', Arial, sans-serif" font-weight="400" font-size="32" xml:space="preserve">1.0</text>
<text transform="translate(320.45,919.20)" font-family="IPAGothic, 'Liberation Serif', serif" font-weight="400" font-size="33" xml:space="preserve">**</text>
<text transform="translate(-0.30,761.80)" font-family="'Liberation Sans', Arial, sans-serif" font-weight="700" font-size="32" xml:space="preserve">(C)</text>
<text transform="translate(193.35,807.80)" font-family="'Liberation Sans', Arial, sans-serif" font-weight="700" font-size="32" letter-spacing="-0.07" xml:space="preserve">2nd immunization</text>
<text transform="translate(60.85,1233.40) rotate(-90)" font-family="'Liberation Sans', Arial, sans-serif" font-weight="700" font-size="32" letter-spacing="-0.08" xml:space="preserve">tPspA-specific serum IgG</text>
<text transform="translate(97.75,1132.95) rotate(-90)" font-family="'Liberation Sans', Arial, sans-serif" font-weight="700" font-size="32" letter-spacing="-0.32" xml:space="preserve">Avidity Index</text>
<text transform="translate(162.25,1407.40) rotate(-45)" font-family="'Liberation Sans', Arial, sans-serif" font-weight="400" font-size="32" xml:space="preserve">FlaB-tPspA</text>
<text transform="translate(314.25,1377.45) rotate(-45)" font-family="'Liberation Sans', Arial, sans-serif" font-weight="400" font-size="32" xml:space="preserve">FPB NC</text>
<text transform="translate(628.50,1247.10)" font-family="'Liberation Sans', Arial, sans-serif" font-weight="400" font-size="32" xml:space="preserve">0.0</text>
<text transform="translate(628.50,1167.40)" font-family="'Liberation Sans', Arial, sans-serif" font-weight="400" font-size="32" xml:space="preserve">0.2</text>
<text transform="translate(627.50,1087.70)" font-family="'Liberation Sans', Arial, sans-serif" font-weight="400" font-size="32" xml:space="preserve">0.4</text>
<text transform="translate(628.50,1008.00)" font-family="'Liberation Sans', Arial, sans-serif" font-weight="400" font-size="32" xml:space="preserve">0.6</text>
<text transform="translate(628.50,928.30)" font-family="'Liberation Sans', Arial, sans-serif" font-weight="400" font-size="32" xml:space="preserve">0.8</text>
<text transform="translate(628.50,848.60)" font-family="'Liberation Sans', Arial, sans-serif" font-weight="400" font-size="32" xml:space="preserve">1.0</text>
<text transform="translate(821.00,865.05)" font-family="'Liberation Sans', Arial, sans-serif" font-weight="400" font-size="37" xml:space="preserve">ns</text>
<text transform="translate(722.55,807.45)" font-family="'Liberation Sans', Arial, sans-serif" font-weight="700" font-size="32" letter-spacing="1.04" xml:space="preserve">3rd Immuniation</text>
<text transform="translate(568.05,1239.40) rotate(-90)" font-family="'Liberation Sans', Arial, sans-serif" font-weight="700" font-size="32" letter-spacing="0.44" xml:space="preserve">tPspA-specific serum IgG</text>
<text transform="translate(605.85,1141.20) rotate(-90)" font-family="'Liberation Sans', Arial, sans-serif" font-weight="700" font-size="32" letter-spacing="1.27" xml:space="preserve">Avidity Index</text>
<text transform="translate(670.55,1406.30) rotate(-45)" font-family="'Liberation Sans', Arial, sans-serif" font-weight="400" font-size="32" xml:space="preserve">FlaB-tPspA</text>
<text transform="translate(822.90,1376.15) rotate(-45)" font-family="'Liberation Sans', Arial, sans-serif" font-weight="400" font-size="32" xml:space="preserve">FPB NC</text>
<text transform="translate(1232.70,1241.90)" font-family="'Liberation Sans', Arial, sans-serif" font-weight="400" font-size="32" xml:space="preserve">0.0</text>
<text transform="translate(1232.70,1107.40)" font-family="'Liberation Sans', Arial, sans-serif" font-weight="400" font-size="32" xml:space="preserve">0.5</text>
<text transform="translate(1232.70,972.90)" font-family="'Liberation Sans', Arial, sans-serif" font-weight="400" font-size="32" xml:space="preserve">1.0</text>
<text transform="translate(1232.70,838.40)" font-family="'Liberation Sans', Arial, sans-serif" font-weight="400" font-size="32" xml:space="preserve">1.5</text>
<text transform="translate(1428.40,860.20)" font-family="IPAGothic, 'Liberation Serif', serif" font-weight="400" font-size="33" xml:space="preserve">**</text>
<text transform="translate(1119.65,748.90)" font-family="'Liberation Sans', Arial, sans-serif" font-weight="700" font-size="32" xml:space="preserve">(D)</text>
<text transform="translate(1171.45,1199.95) rotate(-90)" font-family="'Liberation Sans', Arial, sans-serif" font-weight="700" font-size="32" letter-spacing="0.56" xml:space="preserve">tPspA-specific serum</text>
<text transform="translate(1210.95,1162.50) rotate(-90)" font-family="'Liberation Sans', Arial, sans-serif" font-weight="700" font-size="32" letter-spacing="1.11" xml:space="preserve">IgG2a/IgG1 ratio</text>
<text transform="translate(1276.65,1396.80) rotate(-45)" font-family="'Liberation Sans', Arial, sans-serif" font-weight="400" font-size="32" letter-spacing="0.13" xml:space="preserve">FlaB-tPspA</text>
<text transform="translate(1436.35,1371.80) rotate(-45)" font-family="'Liberation Sans', Arial, sans-serif" font-weight="400" font-size="32" letter-spacing="0.18" xml:space="preserve">FPB NC</text>
<text transform="translate(174.60,1974.70)" font-family="'Liberation Sans', Arial, sans-serif" font-weight="400" font-size="32" xml:space="preserve">0</text>
<text transform="translate(174.60,1895.10)" font-family="'Liberation Sans', Arial, sans-serif" font-weight="400" font-size="32" xml:space="preserve">2</text>
<text transform="translate(173.60,1815.50)" font-family="'Liberation Sans', Arial, sans-serif" font-weight="400" font-size="32" xml:space="preserve">4</text>
<text transform="translate(174.60,1735.90)" font-family="'Liberation Sans', Arial, sans-serif" font-weight="400" font-size="32" xml:space="preserve">6</text>
<text transform="translate(174.60,1656.30)" font-family="'Liberation Sans', Arial, sans-serif" font-weight="400" font-size="32" xml:space="preserve">8</text>
<text transform="translate(156.60,1576.70)" font-family="'Liberation Sans', Arial, sans-serif" font-weight="400" font-size="32" xml:space="preserve">10</text>
<text transform="translate(366.15,1541.25)" font-family="IPAGothic, 'Liberation Serif', serif" font-weight="400" font-size="33" xml:space="preserve">*</text>
<text transform="translate(306.25,1573.05)" font-family="'Liberation Sans', Arial, sans-serif" font-weight="400" font-size="37" xml:space="preserve">ns</text>
<text transform="translate(424.25,1576.20)" font-family="IPAGothic, 'Liberation Serif', serif" font-weight="400" font-size="33" xml:space="preserve">*</text>
<text transform="translate(-0.90,1526.90)" font-family="'Liberation Sans', Arial, sans-serif" font-weight="700" font-size="32" xml:space="preserve">(E)</text>
<text transform="translate(133.20,1879.05) rotate(-90)" font-family="'Liberation Sans', Arial, sans-serif" font-weight="700" font-size="38" letter-spacing="-0.33" xml:space="preserve">IFN-<tspan font-family="'Liberation Serif', serif" font-weight="400">&#947;</tspan> (ng/ml)</text>
<text transform="translate(222.35,2069.95) rotate(-45)" font-family="'Liberation Sans', Arial, sans-serif" font-weight="700" font-size="35" letter-spacing="-0.14" xml:space="preserve">PBS</text>
<text transform="translate(259.15,2146.30) rotate(-45)" font-family="'Liberation Sans', Arial, sans-serif" font-weight="700" font-size="35" letter-spacing="0.31" xml:space="preserve">FlaB-tPspA</text>
<text transform="translate(406.50,2111.40) rotate(-45)" font-family="'Liberation Sans', Arial, sans-serif" font-weight="700" font-size="35" letter-spacing="-0.08" xml:space="preserve">FPB NC</text>
<text transform="translate(668.80,1967.90)" font-family="'Liberation Sans', Arial, sans-serif" font-weight="400" font-size="32" xml:space="preserve">0</text>
<text transform="translate(650.80,1888.40)" font-family="'Liberation Sans', Arial, sans-serif" font-weight="400" font-size="32" xml:space="preserve">20</text>
<text transform="translate(650.80,1808.90)" font-family="'Liberation Sans', Arial, sans-serif" font-weight="400" font-size="32" xml:space="preserve">40</text>
<text transform="translate(650.80,1729.40)" font-family="'Liberation Sans', Arial, sans-serif" font-weight="400" font-size="32" xml:space="preserve">60</text>
<text transform="translate(650.80,1649.90)" font-family="'Liberation Sans', Arial, sans-serif" font-weight="400" font-size="32" xml:space="preserve">80</text>
<text transform="translate(632.80,1570.40)" font-family="'Liberation Sans', Arial, sans-serif" font-weight="400" font-size="32" xml:space="preserve">100</text>
<text transform="translate(853.10,1534.15)" font-family="IPAGothic, 'Liberation Serif', serif" font-weight="400" font-size="33" xml:space="preserve">**</text>
<text transform="translate(804.70,1570.00)" font-family="IPAGothic, 'Liberation Serif', serif" font-weight="400" font-size="33" xml:space="preserve">**</text>
<text transform="translate(906.50,1564.10)" font-family="'Liberation Sans', Arial, sans-serif" font-weight="400" font-size="37" xml:space="preserve">ns</text>
<text transform="translate(609.05,1855.95) rotate(-90)" font-family="'Liberation Sans', Arial, sans-serif" font-weight="700" font-size="38" letter-spacing="-0.95" xml:space="preserve">IL-4 (pg/ml)</text>
<text transform="translate(716.35,2062.72) rotate(-45)" font-family="'Liberation Sans', Arial, sans-serif" font-weight="700" font-size="35" letter-spacing="0.16" xml:space="preserve">PBS</text>
<text transform="translate(753.25,2139.20) rotate(-45)" font-family="'Liberation Sans', Arial, sans-serif" font-weight="700" font-size="35" letter-spacing="0.31" xml:space="preserve">FlaB-tPspA</text>
<text transform="translate(899.45,2104.90) rotate(-45)" font-family="'Liberation Sans', Arial, sans-serif" font-weight="700" font-size="35" xml:space="preserve">FPB NC</text>
<text transform="translate(1204.40,1966.10)" font-family="'Liberation Sans', Arial, sans-serif" font-weight="400" font-size="32" xml:space="preserve">0</text>
<text transform="translate(1168.40,1886.60)" font-family="'Liberation Sans', Arial, sans-serif" font-weight="400" font-size="32" xml:space="preserve">500</text>
<text transform="translate(1150.40,1807.10)" font-family="'Liberation Sans', Arial, sans-serif" font-weight="400" font-size="32" xml:space="preserve">1000</text>
<text transform="translate(1150.40,1727.60)" font-family="'Liberation Sans', Arial, sans-serif" font-weight="400" font-size="32" xml:space="preserve">1500</text>
<text transform="translate(1150.40,1648.10)" font-family="'Liberation Sans', Arial, sans-serif" font-weight="400" font-size="32" xml:space="preserve">2000</text>
<text transform="translate(1150.40,1568.60)" font-family="'Liberation Sans', Arial, sans-serif" font-weight="400" font-size="32" xml:space="preserve">2500</text>
<text transform="translate(1374.45,1516.20)" font-family="IPAGothic, 'Liberation Serif', serif" font-weight="400" font-size="33" xml:space="preserve">***</text>
<text transform="translate(1339.65,1550.05)" font-family="'Liberation Sans', Arial, sans-serif" font-weight="400" font-size="37" xml:space="preserve">ns</text>
<text transform="translate(1445.15,1552.85)" font-family="IPAGothic, 'Liberation Serif', serif" font-weight="400" font-size="33" xml:space="preserve">**</text>
<text transform="translate(1128.05,1868.85) rotate(-90)" font-family="'Liberation Sans', Arial, sans-serif" font-weight="700" font-size="38" letter-spacing="-0.56" xml:space="preserve">IL-17 (pg/ml)</text>
<text transform="translate(1253.25,2060.80) rotate(-45)" font-family="'Liberation Sans', Arial, sans-serif" font-weight="700" font-size="35" xml:space="preserve">PBS</text>
<text transform="translate(1289.90,2137.25) rotate(-45)" font-family="'Liberation Sans', Arial, sans-serif" font-weight="700" font-size="35" letter-spacing="0.26" xml:space="preserve">FlaB-tPspA</text>
<text transform="translate(1436.15,2102.95) rotate(-45)" font-family="'Liberation Sans', Arial, sans-serif" font-weight="700" font-size="35" letter-spacing="0.06" xml:space="preserve">FPB NC</text>
</svg></body></html>
